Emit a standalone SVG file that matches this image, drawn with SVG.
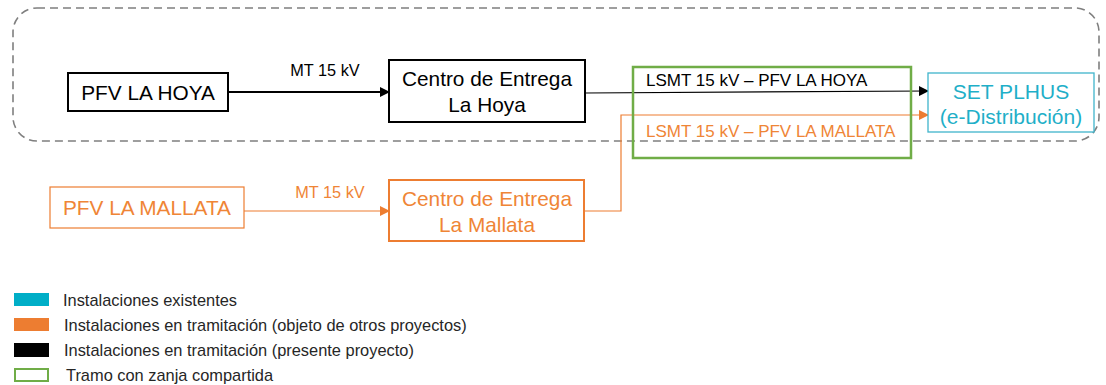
<svg xmlns="http://www.w3.org/2000/svg" width="1106" height="385" viewBox="0 0 1106 385">
<style>
text{font-family:"Liberation Sans",Arial,sans-serif}
.big{font-size:20.8px}
.lbl{font-size:16.3px}
.lsmt{font-size:17px}
.leg{font-size:16.4px;fill:#262626}
.blk{fill:#000}
.org{fill:#EF8536}
.cy{fill:#1FAFC8;font-size:21px}
</style>
<defs>
<marker id="ab" viewBox="0 0 10 10" refX="9" refY="5" markerWidth="10" markerHeight="10" markerUnits="userSpaceOnUse" orient="auto"><path d="M0,0 L10,5 L0,10 z" fill="#000"/></marker>
<marker id="ao" viewBox="0 0 10 10" refX="9" refY="5" markerWidth="10" markerHeight="10" markerUnits="userSpaceOnUse" orient="auto"><path d="M0,0 L10,5 L0,10 z" fill="#ED7D31"/></marker>
</defs>
<rect width="1106" height="385" fill="#fff"/>
<rect id="zone" x="13" y="8" width="1086" height="133" rx="24" fill="none" stroke="#7F7F7F" stroke-width="1.6" stroke-dasharray="8 5"/>
<g id="connectors" fill="none">
<line x1="228" y1="92" x2="389" y2="92" stroke="#000" stroke-width="2" marker-end="url(#ab)"/>
<polyline points="585,93 928,91" stroke="#000" stroke-width="1.2" marker-end="url(#ab)"/>
<line x1="244" y1="211" x2="389" y2="211" stroke="#ED7D31" stroke-width="1.2" marker-end="url(#ao)"/>
<polyline points="584,211 621,211 621,115 928,115" stroke="#ED7D31" stroke-width="1.2" marker-end="url(#ao)"/>
</g>
<g id="labels">
<text class="lbl blk" x="325" y="76" text-anchor="middle">MT 15 kV</text>
<text class="lbl org" x="330" y="198" text-anchor="middle">MT 15 kV</text>
<text class="lsmt blk" x="646" y="86">LSMT 15 kV – PFV LA HOYA</text>
<text class="lsmt org" x="646" y="137">LSMT 15 kV – PFV LA MALLATA</text>
</g>
<g id="shared-trench"><rect x="633" y="67" width="278" height="91" fill="none" stroke="#70AD47" stroke-width="2.5"/></g>
<g id="pfv-la-hoya">
<rect x="68" y="73" width="160" height="38" fill="#fff" stroke="#000" stroke-width="2"/>
<text class="big blk" x="148" y="100" text-anchor="middle">PFV LA HOYA</text>
</g>
<g id="ce-la-hoya">
<rect x="389" y="60" width="196" height="62" fill="#fff" stroke="#000" stroke-width="2"/>
<text class="big blk" x="487" y="86" text-anchor="middle">Centro de Entrega</text>
<text class="big blk" x="487" y="112" text-anchor="middle">La Hoya</text>
</g>
<g id="set-plhus">
<rect x="928" y="73" width="166" height="59" fill="#fff" stroke="#3FB4CB" stroke-width="1.3"/>
<text class="cy" x="1011" y="99" text-anchor="middle">SET PLHUS</text>
<text class="cy" x="1011" y="124" text-anchor="middle">(e-Distribución)</text>
</g>
<g id="pfv-la-mallata">
<rect x="50" y="187" width="194" height="41" fill="#fff" stroke="#ED7D31" stroke-width="1.2"/>
<text class="big org" x="147" y="215" text-anchor="middle">PFV LA MALLATA</text>
</g>
<g id="ce-la-mallata">
<rect x="389" y="180" width="195" height="61" fill="#fff" stroke="#ED7D31" stroke-width="2"/>
<text class="big org" x="487" y="206" text-anchor="middle">Centro de Entrega</text>
<text class="big org" x="487" y="232" text-anchor="middle">La Mallata</text>
</g>
<g id="legend">
<rect x="14" y="293" width="35" height="13" fill="#00AEC7"/>
<text class="leg" x="63" y="306">Instalaciones existentes</text>
<rect x="14" y="318" width="35" height="13" fill="#ED7D31"/>
<text class="leg" x="64" y="331">Instalaciones en tramitación (objeto de otros proyectos)</text>
<rect x="14" y="343" width="35" height="14" fill="#000"/>
<text class="leg" x="64" y="356">Instalaciones en tramitación (presente proyecto)</text>
<rect x="15" y="369" width="33" height="12" fill="#fff" stroke="#70AD47" stroke-width="2"/>
<text class="leg" x="66" y="381">Tramo con zanja compartida</text>
</g>
</svg>
